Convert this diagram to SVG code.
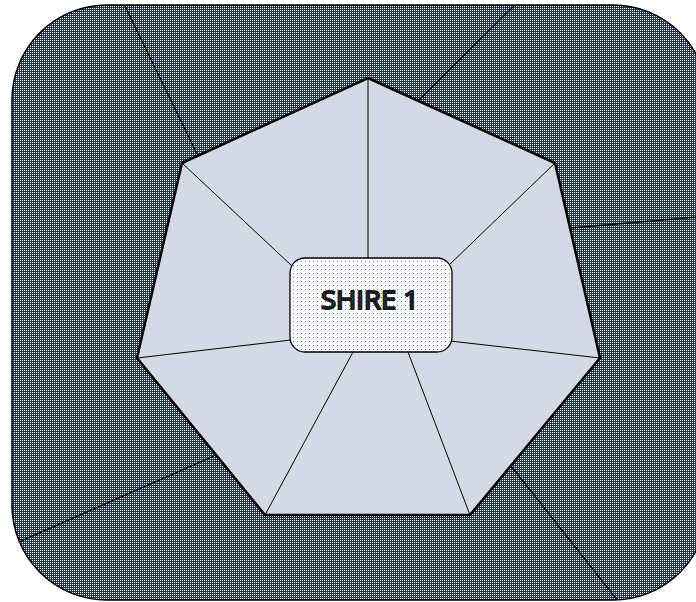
<svg xmlns="http://www.w3.org/2000/svg" width="696" height="602" viewBox="0 0 696 602">
  <defs>
    <pattern id="dark" x="0" y="0" width="2" height="2" patternUnits="userSpaceOnUse">
      <rect width="2" height="2" fill="#233459"/>
      <rect width="1" height="1" fill="#ffffff"/>
    </pattern>
    <pattern id="dots" width="4" height="4" patternUnits="userSpaceOnUse">
      <rect width="4" height="4" fill="#ffffff"/>
      <rect x="1" y="1" width="1" height="1" fill="#5a8ad8"/>
    </pattern>
    <clipPath id="frameClip">
      <rect x="12" y="5" width="696" height="595" rx="95" ry="95"/>
    </clipPath>
  </defs>
  <style>
    .edge { stroke: #000; stroke-width: 1.3; fill: none; }
    .spoke { stroke: #000; stroke-width: 1; fill: none; }
    .label { font-family: "Open Sans", "Liberation Sans", Arial, sans-serif; font-size: 26px; fill: #ffffff; stroke: #1a1a1a; stroke-width: 2px; stroke-linejoin: round; }
  </style>
  <g id="frame">
    <rect x="12" y="5" width="696" height="595" rx="95" ry="95" fill="url(#dark)" stroke="#000" stroke-width="1.5"/>
  </g>
  <g id="connectors" clip-path="url(#frameClip)">
    <line class="edge" x1="122" y1="0" x2="198" y2="156"/>
    <line class="edge" x1="520" y1="0" x2="418" y2="101"/>
    <line class="edge" x1="710" y1="216" x2="570" y2="228"/>
    <line class="edge" x1="5" y1="548" x2="214" y2="456"/>
    <line class="edge" x1="511" y1="466" x2="622" y2="606"/>
  </g>
  <g id="heptagon">
    <polygon points="368,78 555,163 600,358 470,515 265,515 137,358 182,163" fill="#d3dae6" stroke="#000" stroke-width="2.5" stroke-linejoin="miter"/>
    <line class="spoke" x1="368" y1="78" x2="368" y2="258"/>
    <line class="spoke" x1="555" y1="163" x2="448" y2="266"/>
    <line class="spoke" x1="600" y1="358" x2="450" y2="341"/>
    <line class="spoke" x1="470" y1="515" x2="408" y2="352"/>
    <line class="spoke" x1="265" y1="515" x2="353" y2="352"/>
    <line class="spoke" x1="137" y1="358" x2="291" y2="340"/>
    <line class="spoke" x1="182" y1="163" x2="292" y2="266"/>
  </g>
  <g id="shire1">
    <rect x="290" y="258" width="162" height="94" rx="15" ry="15" fill="url(#dots)" stroke="#000" stroke-width="1.3"/>
    <text class="label" x="370" y="309" text-anchor="middle" textLength="98" lengthAdjust="spacingAndGlyphs">SHIRE 1</text>
  </g>
</svg>
